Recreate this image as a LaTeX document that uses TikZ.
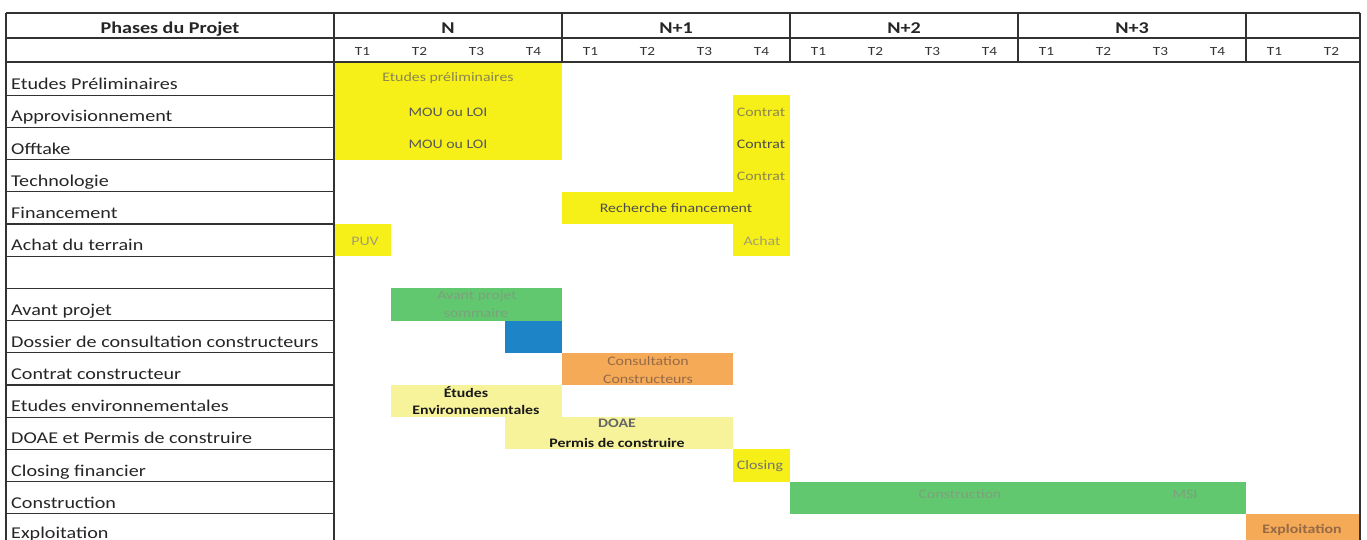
\documentclass[tikz,border=0pt]{standalone}
\usepackage{fontspec}
\setmainfont{Carlito}[FakeStretch=1.22]
\definecolor{ybright}{RGB}{246,240,24}
\definecolor{ylight}{RGB}{247,243,155}
\definecolor{gbar}{RGB}{98,200,112}
\definecolor{bbar}{RGB}{30,132,200}
\definecolor{obar}{RGB}{245,170,88}
\definecolor{gridc}{RGB}{50,50,50}
\definecolor{olivetxt}{RGB}{140,134,80}
\definecolor{greentxt}{RGB}{125,160,125}
\definecolor{browntxt}{RGB}{150,105,70}
\begin{document}
\begin{tikzpicture}[x=1pt,y=-1pt,
  gridline/.style={draw=gridc, line width=1.2pt},
  lbl/.style={anchor=base west, inner sep=0pt, font=\fontsize{16.5}{18}\selectfont, text=black!85},
  hdr/.style={anchor=base, inner sep=0pt, font=\bfseries\fontsize{16.5}{18}\selectfont, text=black!85},
  qlbl/.style={anchor=base, inner sep=0pt, font=\fontsize{12.5}{13}\selectfont, text=black!80},
  bartxt/.style={inner sep=0pt, font=\fontsize{13}{14}\selectfont},
  barbold/.style={inner sep=0pt, font=\bfseries\fontsize{13}{14}\selectfont}]
\useasboundingbox (0,0) rectangle (1367,540);
\clip (0,0) rectangle (1367,540);
\fill[white] (0,0) rectangle (1367,540);
% bars
\fill[ybright] (334,63) rectangle (562,159.6);
\fill[ybright] (733,95.2) rectangle (790,256.2);
\fill[ybright] (562,191.8) rectangle (790,224);
\fill[ybright] (334,224) rectangle (391,256.2);
\fill[gbar] (391,288.4) rectangle (562,320.6);
\fill[bbar] (505,320.6) rectangle (562,352.8);
\fill[obar] (562,352.8) rectangle (733,385);
\fill[ylight] (391,385) rectangle (562,417.2);
\fill[ylight] (505,417.2) rectangle (733,449.4);
\fill[ybright] (733,449.4) rectangle (790,481.6);
\fill[gbar] (790,481.6) rectangle (1246,513.8);
\fill[obar] (1246,513.8) rectangle (1360,546);
% grid
\draw[gridline] (6,13) -- (1360,13);
\draw[gridline] (6,38) -- (1360,38);
\draw[gridline] (6,62) -- (1360,62);
\draw[gridline] (6,13) -- (6,550);
\draw[gridline] (334,13) -- (334,550);
\draw[gridline] (1360,13) -- (1360,550);
\foreach \xx in {562,790,1018,1246} \draw[gridline] (\xx,13) -- (\xx,62);
\foreach \k in {1,...,14} {
  \pgfmathsetmacro\yy{63+32.2*\k}
  \draw[gridline] (6,\yy) -- (334,\yy);
}
% headers
\node[hdr] (hphase) at (170,33.5) {Phases du Projet};
\node[hdr] (yN) at (448,33.5) {N};
\node[hdr] (yN1) at (676,33.5) {N+1};
\node[hdr] (yN2) at (904,33.5) {N+2};
\node[hdr] (yN3) at (1132,33.5) {N+3};
\foreach \q in {0,...,17} {
  \pgfmathtruncatemacro\tq{mod(\q,4)+1}
  \node[qlbl] (q\q) at (334+57*\q+28.5,55.5) {T\tq};
}
% row labels
\foreach \i/\t in {0/Etudes Préliminaires,1/Approvisionnement,2/Offtake,3/Technologie,4/Financement,5/Achat du terrain,7/Avant projet,8/Dossier de consultation constructeurs,9/Contrat constructeur,10/Etudes environnementales,11/DOAE et Permis de construire,12/Closing financier,13/Construction} {
  \pgfmathsetmacro\yb{63+32.2*(\i+1)-5.5}
  \node[lbl] (L\i) at (11,\yb) {\t};
}
\node[lbl] (L14) at (11,538) {Exploitation};
% bar texts
\node[bartxt, text=olivetxt] (ep) at (448,78) {Etudes préliminaires};
\node[bartxt, text=black!65] (mou1) at (448,112) {MOU ou LOI};
\node[bartxt, text=black!65] (mou2) at (448,144) {MOU ou LOI};
\node[bartxt, text=olivetxt] (ct1) at (761,112) {Contrat};
\node[bartxt, text=black!70] (ct2) at (761,144) {Contrat};
\node[bartxt, text=olivetxt] (ct3) at (761,176) {Contrat};
\node[bartxt, text=black!70] (rf) at (676,208) {Recherche financement};
\node[bartxt, text=olivetxt!80] (puv) at (365,241) {PUV};
\node[bartxt, text=olivetxt!80] (ach) at (762,241) {Achat};
\node[bartxt, text=greentxt] (ap1) at (477,296) {Avant projet};
\node[bartxt, text=greentxt] (ap2) at (476,313) {sommaire};
\node[bartxt, text=browntxt] (cc1) at (648,361) {Consultation};
\node[bartxt, text=browntxt] (cc2) at (648,379) {Constructeurs};
\node[barbold, text=black!90] (ee1) at (466,392) {Études};
\node[barbold, text=black!90] (ee2) at (476,410) {Environnementales};
\node[barbold, text=black!60] (do1) at (617,423) {DOAE};
\node[barbold, text=black!90] (do2) at (617,443) {Permis de construire};
\node[bartxt, text=black!55] (cl) at (760,466) {Closing};
\node[bartxt, text=greentxt] (co) at (960,494) {Construction};
\node[bartxt, text=greentxt] (msi) at (1185,494) {MSI};
\node[barbold, text=browntxt] (ex) at (1302,530) {Exploitation};
\end{tikzpicture}
\end{document}
